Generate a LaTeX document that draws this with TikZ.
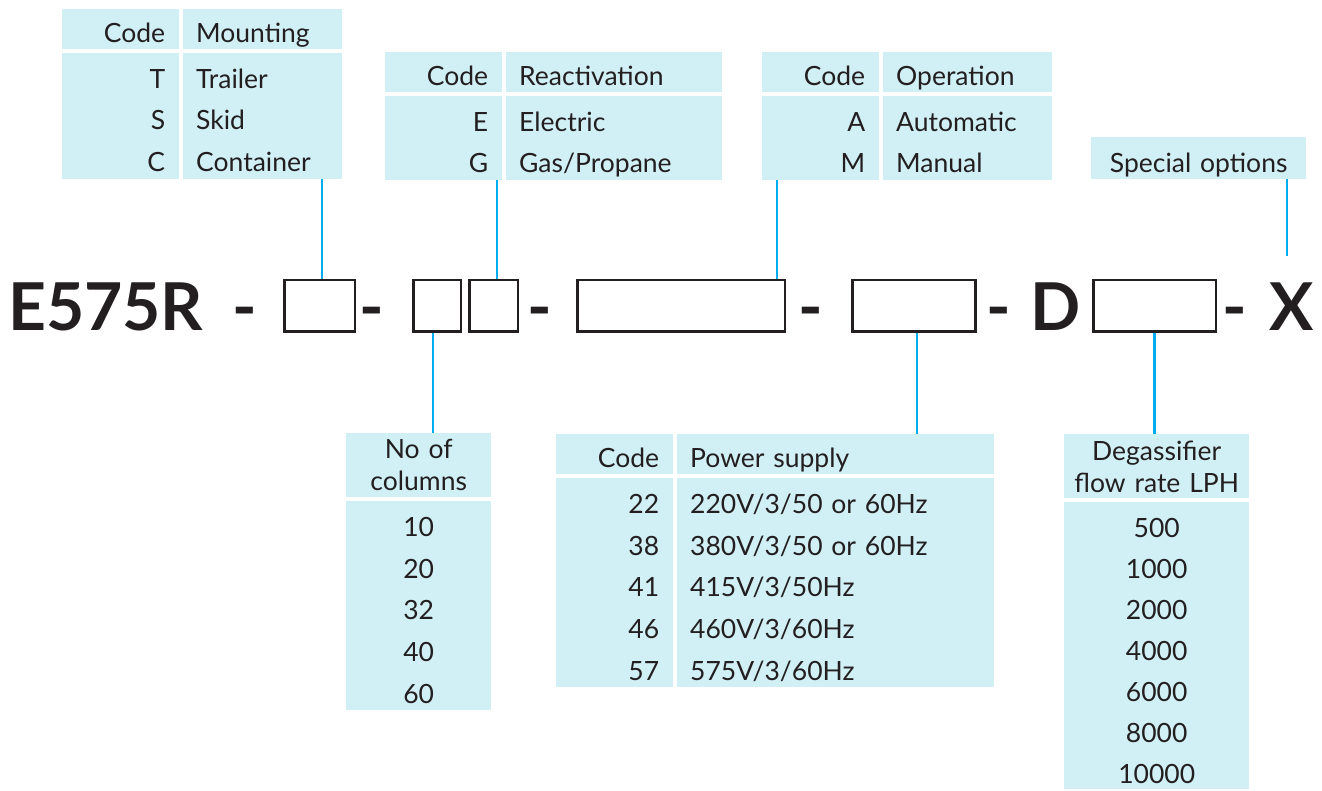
\documentclass[tikz,border=0pt]{standalone}
\usepackage{fontspec}
\setmainfont{Lato}
\usepackage{xcolor}
\usepackage{tikz}
\usetikzlibrary{
  matrix
}

\definecolor{cellfill}{RGB}{209,240,245}
\definecolor{linkblue}{RGB}{0,174,239}
\definecolor{ink}{RGB}{35,31,32}

\begin{document}
\begin{tikzpicture}[x=1pt, y=-1pt,
    every node/.style={text=ink},
    shade/.style={fill=cellfill, inner ysep=0pt, font=\fontsize{26.5}{32}\selectfont},
    cell/.style={shade, text height=35pt, text depth=7pt},
    hdr/.style={text height=33pt},
    code/.style={cell, align=right, text width=89pt, inner xsep=14pt},
    desc/.style={cell, align=left, text width=#1, inner xsep=13pt},
    val/.style={cell, align=center, text width=#1, inner xsep=0pt},
    tight/.style={text depth=6.2pt},
    twoline/.style={shade, align=center, text width=#1, inner xsep=0pt, minimum height=64pt},
    tbl/.style={anchor=north west, inner sep=0pt, column sep=4pt, row sep=-\pgflinewidth},
    slot/.style={draw=ink, line width=2.5pt, minimum height=51.5pt, inner sep=0pt},
    big/.style={font=\fontsize{66}{72}\selectfont\bfseries, inner sep=0pt, anchor=base},
    link/.style={draw=linkblue, line width=2.5pt}]
\useasboundingbox (0,0) rectangle (1322,791);

\matrix (mount) [tbl, ampersand replacement=\&] at (62,9)
{
\node [code, hdr] {Code}; \& \node [desc=133pt, hdr] {Mounting}; \\[4pt]
\node [code] {T}; \& \node [desc=133pt] {Trailer}; \\
\node [code] {S}; \& \node [desc=133pt] {Skid}; \\
\node [code] {C}; \& \node [desc=133pt] {Container}; \\
};

\matrix (react) [tbl, ampersand replacement=\&] at (385,52)
{
\node [code, hdr] {Code}; \& \node [desc=190pt, hdr] {Reactivation}; \\[4pt]
\node [code] {E}; \& \node [desc=190pt] {Electric}; \\
\node [code] {G}; \& \node [desc=190pt] {Gas/Propane}; \\
};

\matrix (oper) [tbl, ampersand replacement=\&] at (762,52)
{
\node [code, hdr] {Code}; \& \node [desc=143pt, hdr] {Operation}; \\[4pt]
\node [code] {A}; \& \node [desc=143pt] {Automatic}; \\
\node [code] {M}; \& \node [desc=143pt] {Manual}; \\
};

\node [val=215pt, anchor=north west] (spec) at (1091,137) {Special options};

\matrix (cols) [tbl, ampersand replacement=\&] at (346,433)
{
\node [twoline=145pt] {No of\\columns}; \\[4pt]
\node [val=145pt] {10}; \\
\node [val=145pt] {20}; \\
\node [val=145pt] {32}; \\
\node [val=145pt] {40}; \\
\node [val=145pt] {60}; \\
};

\matrix (power) [tbl, ampersand replacement=\&] at (556,434)
{
\node [code, hdr] {Code}; \& \node [desc=291pt, hdr] {Power supply}; \\[4pt]
\node [code] {22}; \& \node [desc=291pt] {220V/3/50 or 60Hz}; \\
\node [code] {38}; \& \node [desc=291pt] {380V/3/50 or 60Hz}; \\
\node [code] {41}; \& \node [desc=291pt] {415V/3/50Hz}; \\
\node [code] {46}; \& \node [desc=291pt] {460V/3/60Hz}; \\
\node [code] {57}; \& \node [desc=291pt] {575V/3/60Hz}; \\
};

\matrix (degas) [tbl, ampersand replacement=\&] at (1064,434)
{
\node [twoline=185pt] {Degassifier\\flow rate LPH}; \\[4pt]
\node [val=185pt, tight] {500}; \\
\node [val=185pt, tight] {1000}; \\
\node [val=185pt, tight] {2000}; \\
\node [val=185pt, tight] {4000}; \\
\node [val=185pt, tight] {6000}; \\
\node [val=185pt, tight] {8000}; \\
\node [val=185pt, tight] {10000}; \\
};

\node [big, anchor=base west] (model) at (8,331) {E575R};
\node [big] (d1) at (245,331) {-};
\node [slot, minimum width=70.5pt] (b1) at (319.5,306) {};
\node [big] (d2) at (372,331) {-};
\node [slot, minimum width=47.5pt] (b2) at (437,306) {};
\node [slot, minimum width=48.5pt] (b3) at (493.5,306) {};
\node [big] (d3) at (540,331) {-};
\node [slot, minimum width=207.5pt] (b4) at (681,306) {};
\node [big] (d4) at (810.5,331) {-};
\node [slot, minimum width=123pt] (b5) at (914,306) {};
\node [big] (d5) at (999,331) {-};
\node [big] (dl) at (1056,331) {D};
\node [slot, minimum width=122.5pt] (b6) at (1154.5,306) {};
\node [big] (d6) at (1235,331) {-};
\node [big] (xl) at (1292,331) {X};

\coordinate (spectip) at (1287,256);
\draw [link] ([xshift=2.5pt]b1.north) -- ([xshift=2.5pt]b1.north |- mount.south);
\draw [link] ([xshift=3.5pt]b3.north) -- ([xshift=3.5pt]b3.north |- react.south);
\draw [link] ([xshift=96pt]b4.north) -- ([xshift=96pt]b4.north |- oper.south);
\draw [link] (spec.south -| spectip) -- (spectip);
\draw [link] ([xshift=-4pt]b2.south) -- ([xshift=-4pt]b2.south |- cols.north);
\draw [link] ([xshift=3pt]b5.south) -- ([xshift=3pt]b5.south |- power.north);
\draw [link] (b6.south) -- (b6.south |- degas.north);
\end{tikzpicture}
\end{document}
